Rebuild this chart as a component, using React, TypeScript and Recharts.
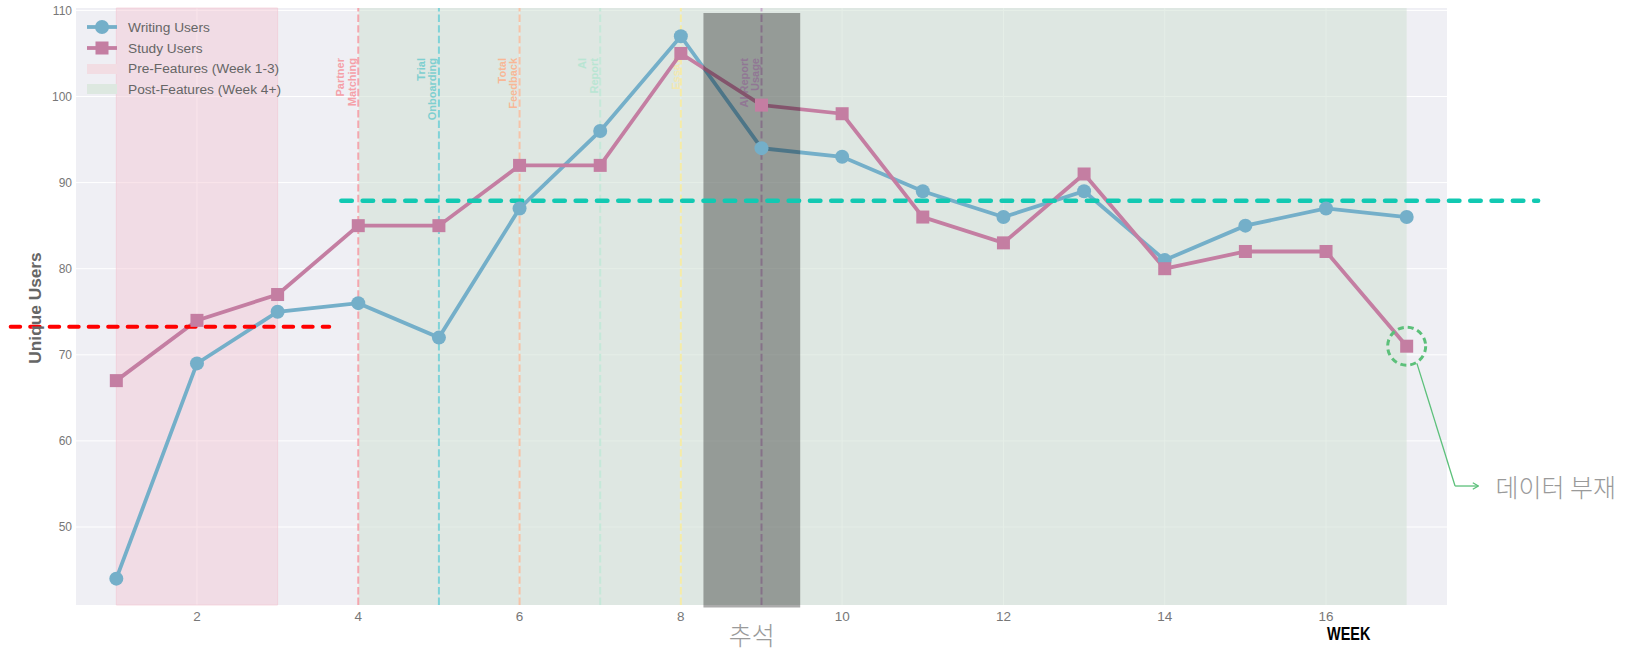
import React from "react";
import {
  LineChart,
  Line,
  XAxis,
  YAxis,
  CartesianGrid,
  ReferenceArea,
  ReferenceLine,
  ReferenceDot,
} from "recharts";

// weekly unique users
const weeks = [1, 2, 3, 4, 5, 6, 7, 8, 9, 10, 11, 12, 13, 14, 15, 16, 17];
const writingUsers = [44, 69, 75, 76, 72, 87, 96, 107, 94, 93, 89, 86, 89, 81, 85, 87, 86];
const studyUsers = [67, 74, 77, 85, 85, 92, 92, 105, 99, 98, 86, 83, 91, 80, 82, 82, 71];

const xTicks = [2, 4, 6, 8, 10, 12, 14, 16];
const yTicks = [50, 60, 70, 80, 90, 100, 110];

// feature launches
const featureWeeks = [4, 5, 6, 7, 8, 9];
const featureLabels = [
  ["Partner", "Matching"],
  ["Trial", "Onboarding"],
  ["Total", "Feedback"],
  ["AI", "Report"],
  ["Essay"],
  ["AI Report", "Usage"],
];
const featureLineColors = ["#f4a6ae", "#7fd3d8", "#f6c3a8", "#c5e8d9", "#f5eba8", "#c7aacb"];
const featureTextColors = ["#f5a0a8", "#7fcfd0", "#f8b796", "#b9e5d3", "#f3e8b0", "#d8b2dd"];

// averages
const preAverage = 73.26;
const postAverage = 87.9;

const WRITING = "#74afc9";
const STUDY = "#c47ea2";
const GREEN = "#5cc07a";

const data = weeks.map((week, i) => ({
  week,
  writing: writingUsers[i],
  study: studyUsers[i],
}));

const SquareDot = (props: any) => {
  const { cx, cy, index } = props;
  if (cx == null || cy == null) return null;
  return <rect key={index} x={cx - 6.5} y={cy - 6.5} width={13} height={13} fill={STUDY} />;
};

const featureLabel = (lines: string[], color: string) => (props: any) => {
  const x = props.viewBox?.x ?? 0;
  const offsets = lines.length === 2 ? [-18, -6.5] : [-5];
  return (
    <g>
      {lines.map((t, i) => (
        <text
          key={t}
          transform={`translate(${x + offsets[i]},58) rotate(-90)`}
          textAnchor="end"
          dominantBaseline="central"
          fill={color}
          fontSize={11}
          fontWeight="bold"
          fontFamily="'Liberation Sans', Arial, sans-serif"
        >
          {t}
        </text>
      ))}
    </g>
  );
};

const legendRows = [
  { label: "Writing Users", kind: "circle", color: WRITING },
  { label: "Study Users", kind: "square", color: STUDY },
  { label: "Pre-Features (Week 1-3)", kind: "patch", color: "#f2dde3" },
  { label: "Post-Features (Week 4+)", kind: "patch", color: "#dde8e0" },
];

function LegendBox() {
  return (
    <div style={{ position: "absolute", left: 86, top: 17 }}>
      {legendRows.map((r) => (
        <div
          key={r.label}
          style={{ display: "flex", alignItems: "center", height: 20.7 }}
        >
          <svg width={32} height={20}>
            {r.kind === "patch" ? (
              <rect x={1} y={5} width={30} height={10} fill={r.color} />
            ) : (
              <>
                <line x1={1} y1={10} x2={31} y2={10} stroke={r.color} strokeWidth={3.8} />
                {r.kind === "circle" ? (
                  <circle cx={16} cy={10} r={7} fill={r.color} />
                ) : (
                  <rect x={9.5} y={3.5} width={13} height={13} fill={r.color} />
                )}
              </>
            )}
          </svg>
          <span style={{ marginLeft: 10, fontSize: 13.7, color: "#666" }}>{r.label}</span>
        </div>
      ))}
    </div>
  );
}

export default function App() {
  return (
    <div
      style={{
        position: "absolute",
        left: 0,
        top: 0,
        width: 1636,
        height: 653,
        background: "#fff",
        fontFamily: "'Liberation Sans', Arial, sans-serif",
      }}
    >
      <LineChart
        width={1636}
        height={653}
        data={data}
        margin={{ top: 8, right: 189, bottom: 28, left: 36 }}
      >
        <CartesianGrid
          fill="#efeff4"
          stroke="#ffffff"
          strokeWidth={1}
          horizontalValues={yTicks}
          verticalValues={xTicks}
        />
        <XAxis
          dataKey="week"
          type="number"
          domain={[0.5, 17.5]}
          allowDataOverflow
          ticks={xTicks}
          interval={0}
          axisLine={false}
          tickLine={false}
          tickSize={3}
          tickMargin={3}
          height={20}
          tick={{ fill: "#777", fontSize: 13.5 }}
        />
        <YAxis
          type="number"
          domain={[40.94, 110.28]}
          allowDataOverflow
          ticks={yTicks}
          interval={0}
          axisLine={false}
          tickLine={false}
          tickSize={2}
          tickMargin={2}
          width={40}
          tick={{ fill: "#777", fontSize: 12 }}
        />

        <ReferenceArea
          x1={1}
          x2={3}
          fill="#f4c6d2"
          fillOpacity={0.45}
          stroke="#f2c4d0"
          strokeOpacity={0.6}
          zIndex={50}
        />
        <ReferenceArea x1={4} x2={17} fill="#cfe0d4" fillOpacity={0.55} zIndex={50} />

        {featureWeeks.map((w, i) => (
          <ReferenceLine
            key={w}
            x={w}
            stroke={featureLineColors[i]}
            strokeWidth={2}
            strokeDasharray="7.4 3.2"
            zIndex={60}
            label={featureLabel(featureLabels[i], featureTextColors[i])}
          />
        ))}

        <Line
          type="linear"
          dataKey="writing"
          stroke={WRITING}
          strokeWidth={3.8}
          dot={{ r: 7, fill: WRITING, stroke: WRITING, strokeWidth: 0 }}
          activeDot={false}
          isAnimationActive={false}
        />
        <Line
          type="linear"
          dataKey="study"
          stroke={STUDY}
          strokeWidth={3.8}
          dot={SquareDot}
          activeDot={false}
          isAnimationActive={false}
        />

        <ReferenceArea
          x1={8.28}
          x2={9.48}
          y1={40.66}
          y2={109.7}
          fill="#000"
          fillOpacity={0.33}
          ifOverflow="visible"
          zIndex={450}
          label={{
            value: "추석",
            position: "bottom",
            offset: 20,
            fill: "#9a9a9a",
            fontSize: 25,
            fontWeight: 300,
            fontFamily: "'Noto Sans CJK KR', sans-serif",
          }}
        />

        <ReferenceLine
          segment={[
            { x: -0.31, y: preAverage },
            { x: 3.64, y: preAverage },
          ]}
          stroke="#ff0000"
          strokeWidth={4}
          strokeDasharray="9.5 10"
          strokeLinecap="round"
          ifOverflow="visible"
          zIndex={460}
        />
        <ReferenceLine
          segment={[
            { x: 3.79, y: postAverage },
            { x: 18.63, y: postAverage },
          ]}
          stroke="#12c9b2"
          strokeWidth={4.5}
          strokeDasharray="10.5 10.8"
          strokeLinecap="round"
          ifOverflow="visible"
          zIndex={460}
        />

        {/* missing data note */}
        <ReferenceDot
          x={17}
          y={71}
          r={19}
          fill="none"
          stroke={GREEN}
          strokeWidth={3}
          strokeDasharray="6 4"
          ifOverflow="visible"
          zIndex={470}
        />
        <ReferenceLine
          segment={[
            { x: 17.127, y: 69.01 },
            { x: 17.6, y: 54.76 },
          ]}
          stroke={GREEN}
          strokeWidth={1.3}
          ifOverflow="visible"
          zIndex={470}
        />
        <ReferenceLine
          segment={[
            { x: 17.6, y: 54.76 },
            { x: 17.89, y: 54.76 },
          ]}
          stroke={GREEN}
          strokeWidth={1.3}
          ifOverflow="visible"
          zIndex={470}
        />
        <ReferenceLine
          segment={[
            { x: 17.82, y: 55.14 },
            { x: 17.89, y: 54.76 },
          ]}
          stroke={GREEN}
          strokeWidth={1.3}
          ifOverflow="visible"
          zIndex={470}
        />
        <ReferenceLine
          segment={[
            { x: 17.82, y: 54.38 },
            { x: 17.89, y: 54.76 },
          ]}
          stroke={GREEN}
          strokeWidth={1.3}
          ifOverflow="visible"
          zIndex={470}
        />
        <ReferenceDot
          x={18.1}
          y={54.76}
          ifOverflow="visible"
          zIndex={470}
          shape={(p: any) => (
            <text
              x={p.cx}
              y={p.cy}
              dominantBaseline="central"
              fill="#9a9a9a"
              fontSize={25}
              fontWeight={300}
              fontFamily="'Noto Sans CJK KR', sans-serif"
            >
              데이터 부재
            </text>
          )}
        />
      </LineChart>

      <LegendBox />

      <div
        style={{
          position: "absolute",
          left: 36,
          top: 307.5,
          transform: "translate(-50%, -50%) rotate(-90deg)",
          whiteSpace: "nowrap",
          fontSize: 17.3,
          fontWeight: "bold",
          color: "#666",
          lineHeight: 1,
        }}
      >
        Unique Users
      </div>
      <div
        style={{
          position: "absolute",
          left: 1326.5,
          top: 633,
          transform: "translateY(-50%) scaleX(0.76)",
          transformOrigin: "left center",
          fontWeight: "bold",
          fontSize: 19,
          color: "#000",
          lineHeight: 1,
        }}
      >
        WEEK
      </div>
    </div>
  );
}
